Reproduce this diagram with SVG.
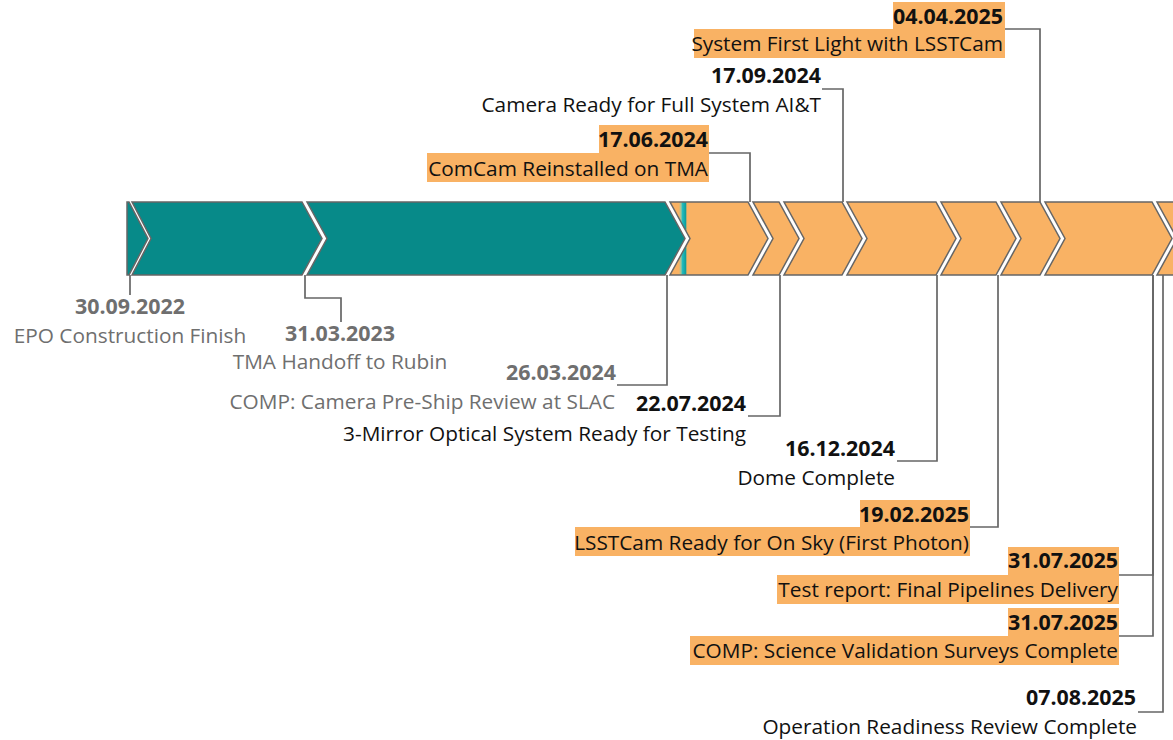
<svg xmlns="http://www.w3.org/2000/svg" width="1173" height="740" viewBox="0 0 1173 740">
<style>
  .seg { stroke: #666666; stroke-width: 1.5; stroke-linejoin: miter; }
  .teal { fill: #078A89; }
  .orange { fill: #F9B264; }
  .hl { fill: #F9B264; }
  .conn { fill: none; stroke: #666666; stroke-width: 1.7; }
  text { font-family: "Open Sans", "Liberation Sans", sans-serif; font-size: 20.8px; fill: #111111; }
  .date { font-weight: bold; font-size: 21.4px; }
  .grey { fill: #6f6f6f; }
  .end { text-anchor: end; }
  .mid { text-anchor: middle; }
</style>
<defs>
  <linearGradient id="g3" gradientUnits="userSpaceOnUse" x1="670" y1="0" x2="770" y2="0">
    <stop offset="0" stop-color="#F9B264"/>
    <stop offset="0.09" stop-color="#F9B264"/>
    <stop offset="0.11" stop-color="#9CC7A0"/>
    <stop offset="0.125" stop-color="#22BABC"/>
    <stop offset="0.155" stop-color="#10A09F"/>
    <stop offset="0.17" stop-color="#F9B264"/>
    <stop offset="1" stop-color="#F9B264"/>
  </linearGradient>
</defs>

<g id="bar">
  <polygon class="seg teal" points="127,202 129,202 148,238.5 129,275 127,275"/>
  <polygon class="seg teal" points="132,202 302,202 322,238.5 302,275 132,275 151,238.5"/>
  <polygon class="seg teal" points="307,202 665,202 685,238.5 665,275 307,275 327,238.5"/>
  <polygon class="seg" fill="url(#g3)" points="670,202 748,202 768,238.5 748,275 670,275 690,238.5"/>
  <polygon class="seg orange" points="753,202 779,202 799,238.5 779,275 753,275 773,238.5"/>
  <polygon class="seg orange" points="784,202 842,202 862,238.5 842,275 784,275 804,238.5"/>
  <polygon class="seg orange" points="847,202 936,202 956,238.5 936,275 847,275 867,238.5"/>
  <polygon class="seg orange" points="941,202 996,202 1016,238.5 996,275 941,275 961,238.5"/>
  <polygon class="seg orange" points="1001,202 1040,202 1060,238.5 1040,275 1001,275 1021,238.5"/>
  <polygon class="seg orange" points="1045,202 1152,202 1172,238.5 1152,275 1045,275 1065,238.5"/>
  <polygon class="seg orange" points="1157,202 1190,202 1210,238.5 1190,275 1157,275 1177,238.5"/>
</g>

<g id="connectors">
  <polyline class="conn" points="1005,29 1040,29 1040,202"/>
  <polyline class="conn" points="822,89 843,89 843,202"/>
  <polyline class="conn" points="709,153 750,153 750,202"/>
  <polyline class="conn" points="130,275 130,295"/>
  <polyline class="conn" points="305,275 305,298 341,298 341,322"/>
  <polyline class="conn" points="667,275 667,385 617,385"/>
  <polyline class="conn" points="780,275 780,416 748,416"/>
  <polyline class="conn" points="937,275 937,461 897,461"/>
  <polyline class="conn" points="998,275 998,527 970,527"/>
  <polyline class="conn" points="1153,275 1153,575 1119,575"/>
  <polyline class="conn" points="1153,275 1153,636 1119,636"/>
  <polyline class="conn" points="1163,275 1163,712 1138,712"/>
</g>

<g id="m-20250404">
  <rect class="hl" x="893" y="2" width="112" height="27"/>
  <rect class="hl" x="694" y="29" width="311" height="29"/>
  <text class="date end" x="1003" y="24">04.04.2025</text>
  <text class="end" x="1003" y="51">System First Light with LSSTCam</text>
</g>
<g id="m-20240917">
  <text class="date end" x="821" y="83">17.09.2024</text>
  <text class="end" x="821" y="112">Camera Ready for Full System AI&amp;T</text>
</g>
<g id="m-20240617">
  <rect class="hl" x="599" y="125" width="110" height="28"/>
  <rect class="hl" x="427" y="153" width="282" height="29"/>
  <text class="date end" x="708" y="147">17.06.2024</text>
  <text class="end" x="708" y="176">ComCam Reinstalled on TMA</text>
</g>
<g id="m-20220930">
  <text class="date mid grey" x="130" y="314">30.09.2022</text>
  <text class="mid grey" x="130" y="343">EPO Construction Finish</text>
</g>
<g id="m-20230331">
  <text class="date mid grey" x="340" y="341">31.03.2023</text>
  <text class="mid grey" x="340" y="369">TMA Handoff to Rubin</text>
</g>
<g id="m-20240326">
  <text class="date end grey" x="616" y="380">26.03.2024</text>
  <text class="end grey" x="615" y="409">COMP: Camera Pre-Ship Review at SLAC</text>
</g>
<g id="m-20240722">
  <text class="date end" x="746" y="411">22.07.2024</text>
  <text class="end" x="746" y="441">3-Mirror Optical System Ready for Testing</text>
</g>
<g id="m-20241216">
  <text class="date end" x="895" y="456">16.12.2024</text>
  <text class="end" x="895" y="485">Dome Complete</text>
</g>
<g id="m-20250219">
  <rect class="hl" x="860" y="500" width="110" height="27"/>
  <rect class="hl" x="575" y="527" width="395" height="29"/>
  <text class="date end" x="969" y="522">19.02.2025</text>
  <text class="end" x="969" y="550">LSSTCam Ready for On Sky (First Photon)</text>
</g>
<g id="m-20250731a">
  <rect class="hl" x="1008" y="547" width="111" height="28"/>
  <rect class="hl" x="777" y="575" width="342" height="29"/>
  <text class="date end" x="1118" y="568">31.07.2025</text>
  <text class="end" x="1118" y="597">Test report: Final Pipelines Delivery</text>
</g>
<g id="m-20250731b">
  <rect class="hl" x="1008" y="608" width="111" height="28"/>
  <rect class="hl" x="690" y="636" width="429" height="29"/>
  <text class="date end" x="1118" y="630">31.07.2025</text>
  <text class="end" x="1118" y="658">COMP: Science Validation Surveys Complete</text>
</g>
<g id="m-20250807">
  <text class="date end" x="1136" y="705">07.08.2025</text>
  <text class="end" x="1137" y="734">Operation Readiness Review Complete</text>
</g>
</svg>
